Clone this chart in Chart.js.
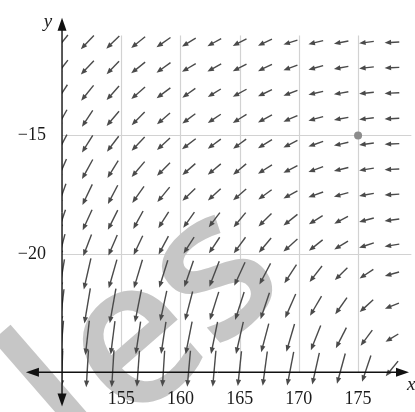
<!DOCTYPE html>
<html>
<head>
<meta charset="utf-8">
<script src="https://cdn.jsdelivr.net/npm/chart.js@4"></script>
<style>
  html, body { margin: 0; padding: 0; background: #fff; }
  canvas { display: block; }
</style>
</head>
<body>
<canvas id="field" width="415" height="412"></canvas>
<script>
// grid of arrow centres
const xCols = [150, 152.14, 154.29, 156.43, 158.57, 160.71, 162.86, 165, 167.14, 169.29, 171.43, 173.57, 175.71, 177.86];
const yRows = [-11.07, -12.14, -13.21, -14.29, -15.36, -16.43, -17.5, -18.57, -19.64, -20.85, -22.2, -23.55, -24.85];

// arrow components (x units, y units), one row per yRows entry
const dxRows = [
  [-0.99, -1.10, -1.10, -1.18, -1.18, -1.16, -1.16, -1.16, -1.18, -1.18, -1.24, -1.22, -1.24, -1.24],
  [-0.99, -1.10, -1.05, -1.18, -1.18, -1.16, -1.16, -1.16, -1.18, -1.18, -1.24, -1.22, -1.24, -1.24],
  [-0.91, -1.05, -1.05, -1.16, -1.16, -1.10, -1.10, -1.16, -1.18, -1.18, -1.24, -1.22, -1.24, -1.24],
  [-0.83, -0.91, -1.05, -1.10, -1.10, -1.10, -1.10, -1.16, -1.18, -1.18, -1.24, -1.22, -1.24, -1.24],
  [-0.83, -0.91, -0.99, -1.10, -1.10, -1.16, -1.10, -1.10, -1.18, -1.18, -1.24, -1.22, -1.24, -1.24],
  [-0.75, -0.91, -0.91, -1.10, -1.10, -1.10, -1.10, -1.10, -1.18, -1.18, -1.24, -1.22, -1.24, -1.24],
  [-0.66, -0.83, -0.83, -0.99, -1.04, -1.08, -1.08, -1.10, -1.13, -1.18, -1.24, -1.22, -1.24, -1.24],
  [-0.58, -0.79, -0.83, -0.83, -0.87, -0.94, -0.94, -1.02, -1.10, -1.18, -1.16, -1.16, -1.24, -1.24],
  [-0.50, -0.70, -0.75, -0.77, -0.83, -0.89, -0.91, -0.99, -1.04, -1.18, -1.16, -1.16, -1.24, -1.24],
  [-0.41, -0.60, -0.69, -0.72, -0.72, -0.77, -0.83, -0.91, -0.94, -1.02, -1.05, -1.06, -1.16, -1.20],
  [-0.33, -0.50, -0.52, -0.55, -0.55, -0.64, -0.75, -0.76, -0.75, -0.89, -0.97, -0.99, -1.14, -1.18],
  [-0.25, -0.33, -0.36, -0.41, -0.41, -0.55, -0.55, -0.62, -0.64, -0.69, -0.83, -0.89, -0.99, -1.08],
  [-0.12, -0.19, -0.19, -0.22, -0.19, -0.27, -0.27, -0.31, -0.39, -0.55, -0.60, -0.70, -0.75, -1.04]
];
const dyRows = [
  [-0.62, -0.58, -0.53, -0.47, -0.41, -0.35, -0.32, -0.30, -0.28, -0.19, -0.15, -0.11, -0.08, -0.03],
  [-0.64, -0.58, -0.55, -0.47, -0.43, -0.35, -0.32, -0.30, -0.29, -0.22, -0.17, -0.11, -0.07, -0.03],
  [-0.70, -0.65, -0.59, -0.51, -0.44, -0.39, -0.34, -0.32, -0.28, -0.22, -0.14, -0.11, -0.07, -0.03],
  [-0.75, -0.69, -0.62, -0.55, -0.48, -0.41, -0.37, -0.36, -0.32, -0.26, -0.17, -0.11, -0.07, -0.03],
  [-0.79, -0.73, -0.65, -0.58, -0.50, -0.44, -0.41, -0.41, -0.37, -0.30, -0.22, -0.14, -0.08, -0.03],
  [-0.87, -0.83, -0.73, -0.65, -0.55, -0.48, -0.46, -0.46, -0.37, -0.30, -0.22, -0.15, -0.10, -0.03],
  [-0.91, -0.87, -0.79, -0.70, -0.63, -0.52, -0.50, -0.48, -0.41, -0.32, -0.22, -0.17, -0.11, -0.04],
  [-0.87, -0.87, -0.83, -0.76, -0.69, -0.66, -0.62, -0.62, -0.55, -0.47, -0.36, -0.31, -0.17, -0.08],
  [-0.95, -0.91, -0.87, -0.81, -0.77, -0.70, -0.68, -0.68, -0.62, -0.53, -0.46, -0.36, -0.21, -0.10],
  [-1.24, -1.31, -1.21, -1.20, -1.16, -1.11, -1.08, -0.99, -0.90, -0.79, -0.67, -0.52, -0.39, -0.17],
  [-1.41, -1.49, -1.46, -1.38, -1.28, -1.22, -1.19, -1.18, -1.12, -1.01, -0.83, -0.70, -0.52, -0.23],
  [-1.45, -1.45, -1.41, -1.38, -1.35, -1.38, -1.35, -1.35, -1.21, -1.17, -1.04, -0.87, -0.66, -0.33],
  [-1.53, -1.56, -1.56, -1.52, -1.52, -1.52, -1.52, -1.47, -1.45, -1.42, -1.34, -1.28, -1.11, -0.64]
];

const markedPoint = [{ x: 175, y: -15 }];
const xTicks = [155, 160, 165, 170, 175];
const yTicks = [-15, -20];

// plot window
const xMin = 145.1, xMax = 179.47;
const yMin = -26.51, yMax = -9.45;
const gridTop = -10.78, gridRight = 179.5;
const xAxisFrom = 146.95, xAxisTo = 179.3;
const yAxisFrom = -26.45, yAxisTo = -10.03;

const points = [];
yRows.forEach((y, r) => {
  xCols.forEach((x, c) => {
    points.push({ x: x, y: y, u: dxRows[r][c], v: dyRows[r][c] });
  });
});

const serif = '"Liberation Serif", "DejaVu Serif", serif';

function arrow(ctx, x0, y0, x1, y1, hl, hw) {
  const dx = x1 - x0, dy = y1 - y0;
  const len = Math.hypot(dx, dy);
  const ux = dx / len, uy = dy / len;
  const h = Math.min(hl, len * 0.5);
  const bx = x1 - ux * h, by = y1 - uy * h;
  ctx.beginPath();
  ctx.moveTo(x0, y0);
  ctx.lineTo(bx + ux * 1, by + uy * 1);
  ctx.stroke();
  ctx.beginPath();
  ctx.moveTo(x1, y1);
  ctx.lineTo(bx - uy * hw, by + ux * hw);
  ctx.lineTo(bx + uy * hw, by - ux * hw);
  ctx.closePath();
  ctx.fill();
}

const background = {
  id: 'background',
  beforeDatasetsDraw(chart) {
    const { ctx, scales: { x, y } } = chart;
    ctx.save();
    // grid
    ctx.strokeStyle = '#d2d2d2';
    ctx.lineWidth = 1.2;
    xTicks.forEach(t => {
      const px = Math.round(x.getPixelForValue(t)) + 0.5;
      ctx.beginPath();
      ctx.moveTo(px, y.getPixelForValue(gridTop));
      ctx.lineTo(px, y.getPixelForValue(-25));
      ctx.stroke();
    });
    yTicks.forEach(t => {
      const py = Math.round(y.getPixelForValue(t)) + 0.5;
      ctx.beginPath();
      ctx.moveTo(x.getPixelForValue(150), py);
      ctx.lineTo(x.getPixelForValue(gridRight), py);
      ctx.stroke();
    });
    // watermark
    ctx.translate(x.getPixelForValue(156.3), y.getPixelForValue(-23.95));
    ctx.rotate(-41 * Math.PI / 180);
    ctx.fillStyle = '#c6c6c6';
    ctx.font = '600 205px "Open Sans", sans-serif';
    ctx.textAlign = 'center';
    ctx.textBaseline = 'alphabetic';
    ctx.fillText('l', -92, 56);
    ctx.fillText('e', 0, 56);
    ctx.fillText('s', 106, 56);
    ctx.restore();
  },
  afterDatasetsDraw(chart) {
    const { ctx, scales: { x, y }, width, height } = chart;
    ctx.save();
    // field arrows, cut at the y-axis
    ctx.beginPath();
    ctx.rect(x.getPixelForValue(150), 0, width, height);
    ctx.clip();
    ctx.strokeStyle = '#4a4a4a';
    ctx.fillStyle = '#4a4a4a';
    ctx.lineWidth = 1.4;
    ctx.lineCap = 'butt';
    points.forEach(p => {
      arrow(ctx,
        x.getPixelForValue(p.x - p.u / 2), y.getPixelForValue(p.y - p.v / 2),
        x.getPixelForValue(p.x + p.u / 2), y.getPixelForValue(p.y + p.v / 2),
        6.5, 2.6);
    });
    ctx.restore();

    // axes
    ctx.save();
    ctx.strokeStyle = '#111';
    ctx.fillStyle = '#111';
    ctx.lineWidth = 1.4;
    const ax = x.getPixelForValue(150), ay = y.getPixelForValue(-25);
    const xl = x.getPixelForValue(xAxisFrom), xr = x.getPixelForValue(xAxisTo);
    const yt = y.getPixelForValue(yAxisTo), yb = y.getPixelForValue(yAxisFrom);
    arrow(ctx, (xl + xr) / 2, ay, xr, ay, 13, 4.5);
    arrow(ctx, (xl + xr) / 2, ay, xl, ay, 13, 4.5);
    arrow(ctx, ax, (yt + yb) / 2, ax, yt, 13, 4.5);
    arrow(ctx, ax, (yt + yb) / 2, ax, yb, 13, 4.5);

    // tick labels
    ctx.fillStyle = '#1a1a1a';
    ctx.font = '18px ' + serif;
    ctx.textAlign = 'center';
    ctx.textBaseline = 'alphabetic';
    xTicks.forEach(t => ctx.fillText(String(t), x.getPixelForValue(t), ay + 32));
    ctx.textAlign = 'right';
    ctx.textBaseline = 'middle';
    yTicks.forEach(t => ctx.fillText('\u2212' + Math.abs(t), ax - 16, y.getPixelForValue(t)));

    ctx.font = 'italic 19px ' + serif;
    ctx.textAlign = 'center';
    ctx.textBaseline = 'alphabetic';
    ctx.fillText('y', ax - 14, yt + 9);
    ctx.textAlign = 'left';
    ctx.fillText('x', xr - 2, ay + 18);
    ctx.restore();
  }
};

new Chart(document.getElementById('field'), {
  type: 'scatter',
  data: {
    datasets: [
      { data: points, pointRadius: 0, showLine: false },
      { data: markedPoint, pointRadius: 4, backgroundColor: '#8c8c8c', borderWidth: 0 }
    ]
  },
  options: {
    responsive: false,
    animation: false,
    layout: { padding: 0 },
    plugins: { legend: { display: false }, tooltip: { enabled: false } },
    events: [],
    scales: {
      x: { type: 'linear', display: false, min: xMin, max: xMax },
      y: { type: 'linear', display: false, min: yMin, max: yMax }
    }
  },
  plugins: [background]
});
</script>
</body>
</html>
